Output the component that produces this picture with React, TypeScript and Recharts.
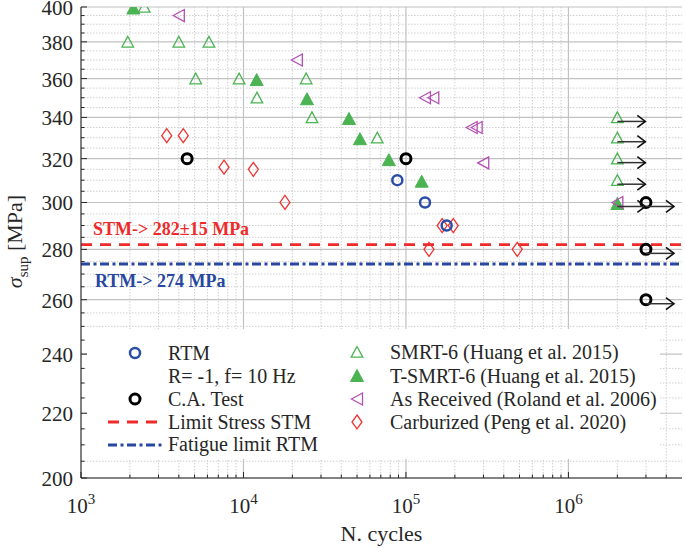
import React from 'react';
import { ScatterChart, Scatter, XAxis, YAxis, CartesianGrid, ReferenceLine, Legend } from 'recharts';

// ---------- data ----------
const rtmCycles = [88500, 131000, 178000];
const rtmStress = [310, 300, 290];

const caCycles = [4500, 100000, 3000000, 3000000, 3000000];
const caStress = [320, 320, 300, 280, 260];

const smrtCycles = [2450, 1940, 4000, 6130, 5080, 9400, 12100, 24300, 26400, 66600, 2000000, 2000000, 2000000, 2000000];
const smrtStress = [400, 380, 380, 380, 360, 360, 350, 360, 340, 330, 340, 330, 320, 310];

const tsmrtCycles = [2100, 12060, 24600, 44600, 52100, 78500, 125000, 2000000];
const tsmrtStress = [400, 360, 350, 340, 330, 320, 310, 300];

const asrCycles = [4000, 21300, 130900, 147300, 253700, 272300, 299000, 2000000];
const asrStress = [395, 370, 350, 350, 335, 335, 318, 300];

const carbCycles = [3370, 4260, 7590, 11500, 18000, 138600, 167000, 195500, 484000];
const carbStress = [331, 331, 316, 315, 300, 280, 290, 290, 280];

const runoutCycles = [2000000, 2000000, 2000000, 2000000, 2000000, 3000000, 3000000, 3000000];
const runoutStress = [340, 330, 320, 310, 300, 300, 280, 260];

const stmLimit = 282;
const rtmLimit = 274;
const stmLabel = 'STM-> 282\u00b115 MPa';
const rtmLabel = 'RTM-> 274 MPa';

const xDomain = [1000, 5000000];
const yDomain = [200, 400];
const xMajor = [1000, 10000, 100000, 1000000];
const xMajorExp = ['3', '4', '5', '6'];
const xMinor = [2000, 3000, 4000, 5000, 6000, 7000, 8000, 9000,
  20000, 30000, 40000, 50000, 60000, 70000, 80000, 90000,
  200000, 300000, 400000, 500000, 600000, 700000, 800000, 900000,
  2000000, 3000000, 4000000];
const yMajor = [200, 220, 240, 260, 280, 300, 320, 340, 360, 380, 400];
const yMinor = [205, 210, 215, 225, 230, 235, 245, 250, 255, 265, 270, 275, 285, 290, 295,
  305, 310, 315, 325, 330, 335, 345, 350, 355, 365, 370, 375, 385, 390, 395];

const legendLeft = ['RTM', 'R= -1, f= 10 Hz', 'C.A. Test', 'Limit Stress STM', 'Fatigue limit RTM'];
const legendRight = ['SMRT-6 (Huang et al. 2015)', 'T-SMRT-6 (Huang et al. 2015)', 'As Received (Roland et al. 2006)', 'Carburized (Peng et al. 2020)'];

const zip = (xs: number[], ys: number[]) => xs.map((x, i) => ({ x, y: ys[i] }));
const rtmData = zip(rtmCycles, rtmStress);
const caData = zip(caCycles, caStress);
const smrtData = zip(smrtCycles, smrtStress);
const tsmrtData = zip(tsmrtCycles, tsmrtStress);
const asrData = zip(asrCycles, asrStress);
const carbData = zip(carbCycles, carbStress);
const runoutData = zip(runoutCycles, runoutStress);
const xTicks = [...xMajor, ...xMinor].sort((a, b) => a - b);
const yTicks = [...yMajor, ...yMinor].sort((a, b) => a - b);

// ---------- styles ----------
const FONT = "'Liberation Serif', 'Times New Roman', Times, serif";
const AXIS = '#262626';
const C_BLUE = '#2a4ea6';
const C_BLACK = '#000000';
const C_GREEN = '#4bb352';
const C_MAGENTA = '#b44fb4';
const C_RED = '#ef3434';
const C_RED_LINE = '#ee2a2a';
const C_BLUE_LINE = '#2747a0';
const RED_DASH = '11 8';
const BLUE_DASH = '9 3.5 3 3.5';

// ---------- marker shapes ----------
const Circle = (cx: number, cy: number, color: string, sw: number) => (
  <circle cx={cx} cy={cy} r={5} fill="none" stroke={color} strokeWidth={sw} />
);
const TriUp = (cx: number, cy: number, filled: boolean) => (
  filled
    ? <polygon points={`${cx},${cy - 6.5} ${cx - 6.5},${cy + 5.5} ${cx + 6.5},${cy + 5.5}`} fill={C_GREEN} stroke={C_GREEN} strokeWidth={1} />
    : <polygon points={`${cx},${cy - 5.5} ${cx - 5.8},${cy + 5.2} ${cx + 5.8},${cy + 5.2}`} fill="none" stroke={C_GREEN} strokeWidth={1.3} />
);
const TriLeft = (cx: number, cy: number) => (
  <polygon points={`${cx - 5.5},${cy} ${cx + 5.5},${cy - 6} ${cx + 5.5},${cy + 6}`} fill="none" stroke={C_MAGENTA} strokeWidth={1.3} />
);
const Diamond = (cx: number, cy: number) => (
  <polygon points={`${cx},${cy - 7} ${cx + 5},${cy} ${cx},${cy + 7} ${cx - 5},${cy}`} fill="none" stroke={C_RED} strokeWidth={1.3} />
);
const Arrow = (cx: number, cy: number) => {
  const y = cy + 4;
  const tip = cx + 28;
  return (
    <g>
      <line x1={cx} y1={y} x2={tip} y2={y} stroke="#333" strokeWidth={1.5} />
      <polyline points={`${tip - 8},${y - 6} ${tip},${y} ${tip - 8},${y + 6}`} fill="none" stroke="#111" strokeWidth={1.6} />
    </g>
  );
};

// ---------- ticks ----------
const XTickBottom = (p: any) => {
  const v = p.payload.value;
  const idx = xMajor.indexOf(v);
  const major = idx >= 0;
  return (
    <g>
      <line x1={p.x} x2={p.x} y1={p.y} y2={p.y - (major ? 6 : 3.5)} stroke={AXIS} strokeWidth={1} />
      {major && (
        <text x={p.x} y={p.y + 35} textAnchor="middle" fontSize={21} fill={AXIS} fontFamily={FONT}>
          10<tspan dy={-9} fontSize={15}>{xMajorExp[idx]}</tspan>
        </text>
      )}
    </g>
  );
};
const XTickTop = (p: any) => {
  const major = xMajor.indexOf(p.payload.value) >= 0;
  return <line x1={p.x} x2={p.x} y1={p.y} y2={p.y + (major ? 6 : 3.5)} stroke={AXIS} strokeWidth={1} />;
};
const YTickLeft = (p: any) => {
  const v = p.payload.value;
  const major = yMajor.indexOf(v) >= 0;
  return (
    <g>
      <line x1={p.x} x2={p.x + (major ? 6 : 3.5)} y1={p.y} y2={p.y} stroke={AXIS} strokeWidth={1} />
      {major && (
        <text x={p.x - 8} y={p.y} dy="0.38em" textAnchor="end" fontSize={21} fill={AXIS} fontFamily={FONT}>{v}</text>
      )}
    </g>
  );
};
const YTickRight = (p: any) => {
  const major = yMajor.indexOf(p.payload.value) >= 0;
  return <line x1={p.x} x2={p.x - (major ? 6 : 3.5)} y1={p.y} y2={p.y} stroke={AXIS} strokeWidth={1} />;
};

// ---------- legend ----------
const LEG_W = 573;
const LEG_H = 130;
const rowY = [24, 47, 70, 93, 116];
const renderLegend = () => {
  const t = (x: number, y: number, s: string) => (
    <text x={x} y={y} dy="0.35em" fontSize={20} fill={AXIS} fontFamily={FONT}>{s}</text>
  );
  return (
    <svg width={LEG_W} height={LEG_H} style={{ display: 'block' }}>
      <rect x={0} y={0} width={LEG_W} height={LEG_H} fill="#fff" />
      {Circle(48, rowY[0], C_BLUE, 2.5)}
      {t(81, rowY[0], legendLeft[0])}
      {t(81, rowY[1], legendLeft[1])}
      {Circle(48, rowY[2], C_BLACK, 3)}
      {t(81, rowY[2], legendLeft[2])}
      <line x1={21} x2={76} y1={rowY[3]} y2={rowY[3]} stroke={C_RED_LINE} strokeWidth={2.8} strokeDasharray={RED_DASH} />
      {t(81, rowY[3], legendLeft[3])}
      <line x1={21} x2={76} y1={rowY[4]} y2={rowY[4]} stroke={C_BLUE_LINE} strokeWidth={3} strokeDasharray={BLUE_DASH} />
      {t(81, rowY[4] - 1, legendLeft[4])}
      {TriUp(270, rowY[0] - 1, false)}
      {t(303, rowY[0] - 1, legendRight[0])}
      {TriUp(270, rowY[1], true)}
      {t(303, rowY[1], legendRight[1])}
      {TriLeft(270, rowY[2])}
      {t(303, rowY[2], legendRight[2])}
      {Diamond(270, rowY[3])}
      {t(303, rowY[3], legendRight[3])}
    </svg>
  );
};

// ---------- labels ----------
const YLabel = (p: any) => {
  const vb = p.viewBox;
  const cx = 22;
  const cy = vb.y + vb.height / 2 - 1;
  return (
    <text x={cx} y={cy} transform={`rotate(-90, ${cx}, ${cy})`} textAnchor="middle" fontSize={22} fill={AXIS} fontFamily={FONT}>
      <tspan fontStyle="italic">{'\u03c3'}</tspan>
      <tspan dy={6} fontSize={15}>sup</tspan>
      <tspan dy={-6}> [MPa]</tspan>
    </text>
  );
};
const XLabel = (p: any) => {
  const vb = p.viewBox;
  return (
    <text x={vb.x + vb.width / 2} y={vb.y + 63} textAnchor="middle" fontSize={22} fill={AXIS} fontFamily={FONT}>N. cycles</text>
  );
};
const StmText = (p: any) => (
  <text x={p.viewBox.x + 12} y={p.viewBox.y - 9.5} fontSize={18} fontWeight="bold" fill={C_RED_LINE} fontFamily={FONT}>{stmLabel}</text>
);
const RtmText = (p: any) => (
  <text x={p.viewBox.x + 14} y={p.viewBox.y + 23} fontSize={18} fontWeight="bold" fill={C_BLUE_LINE} fontFamily={FONT}>{rtmLabel}</text>
);

export default function App() {
  return (
    <div style={{ position: 'absolute', left: 0, top: 0, background: '#fff' }}>
      <ScatterChart width={685} height={548} margin={{ top: 7, right: 3, bottom: 0, left: 0 }}>
        <CartesianGrid horizontalValues={yMinor} verticalValues={xMinor} stroke="#cfcfcf" strokeDasharray="1.5 1.5" strokeWidth={1} />
        <CartesianGrid horizontalValues={yMajor} verticalValues={xMajor} stroke="#c2c2c2" strokeWidth={1.2} />
        <XAxis xAxisId={0} dataKey="x" type="number" scale="log" domain={xDomain} allowDataOverflow ticks={xTicks}
          interval={0} tickSize={0} tickMargin={0} height={70} stroke={AXIS} tick={XTickBottom} label={XLabel} />
        <XAxis xAxisId="top" orientation="top" type="number" scale="log" domain={xDomain} allowDataOverflow ticks={xTicks}
          interval={0} tickSize={0} tickMargin={0} height={0} stroke={AXIS} tick={XTickTop} />
        <YAxis yAxisId={0} dataKey="y" type="number" scale="log" domain={yDomain} allowDataOverflow ticks={yTicks}
          interval={0} tickSize={0} tickMargin={0} width={81} stroke={AXIS} tick={YTickLeft} label={YLabel} />
        <YAxis yAxisId="right" orientation="right" type="number" scale="log" domain={yDomain} allowDataOverflow ticks={yTicks}
          interval={0} tickSize={0} tickMargin={0} width={0} stroke={AXIS} tick={YTickRight} />
        <ReferenceLine y={stmLimit} stroke={C_RED_LINE} strokeWidth={2.8} strokeDasharray={RED_DASH} label={StmText} />
        <ReferenceLine y={rtmLimit} stroke={C_BLUE_LINE} strokeWidth={3} strokeDasharray={BLUE_DASH} label={RtmText} />
        <Scatter name="Carburized" data={carbData} isAnimationActive={false} shape={(p: any) => Diamond(p.cx, p.cy)} />
        <Scatter name="SMRT-6" data={smrtData} isAnimationActive={false} shape={(p: any) => TriUp(p.cx, p.cy, false)} />
        <Scatter name="T-SMRT-6" data={tsmrtData} isAnimationActive={false} shape={(p: any) => TriUp(p.cx, p.cy + 1.5, true)} />
        <Scatter name="As Received" data={asrData} isAnimationActive={false} shape={(p: any) => TriLeft(p.cx, p.cy)} />
        <Scatter name="RTM" data={rtmData} isAnimationActive={false} shape={(p: any) => Circle(p.cx, p.cy, C_BLUE, 2.5)} />
        <Scatter name="C.A. Test" data={caData} isAnimationActive={false} shape={(p: any) => Circle(p.cx, p.cy, C_BLACK, 3)} />
        <Scatter name="runout" data={runoutData} isAnimationActive={false} shape={(p: any) => Arrow(p.cx, p.cy)} />
        <Legend content={renderLegend} layout="vertical" align="center" verticalAlign="middle"
          wrapperStyle={{ left: 87, top: 329, width: LEG_W, height: LEG_H, margin: 0, padding: 0 }} />
      </ScatterChart>
    </div>
  );
}
